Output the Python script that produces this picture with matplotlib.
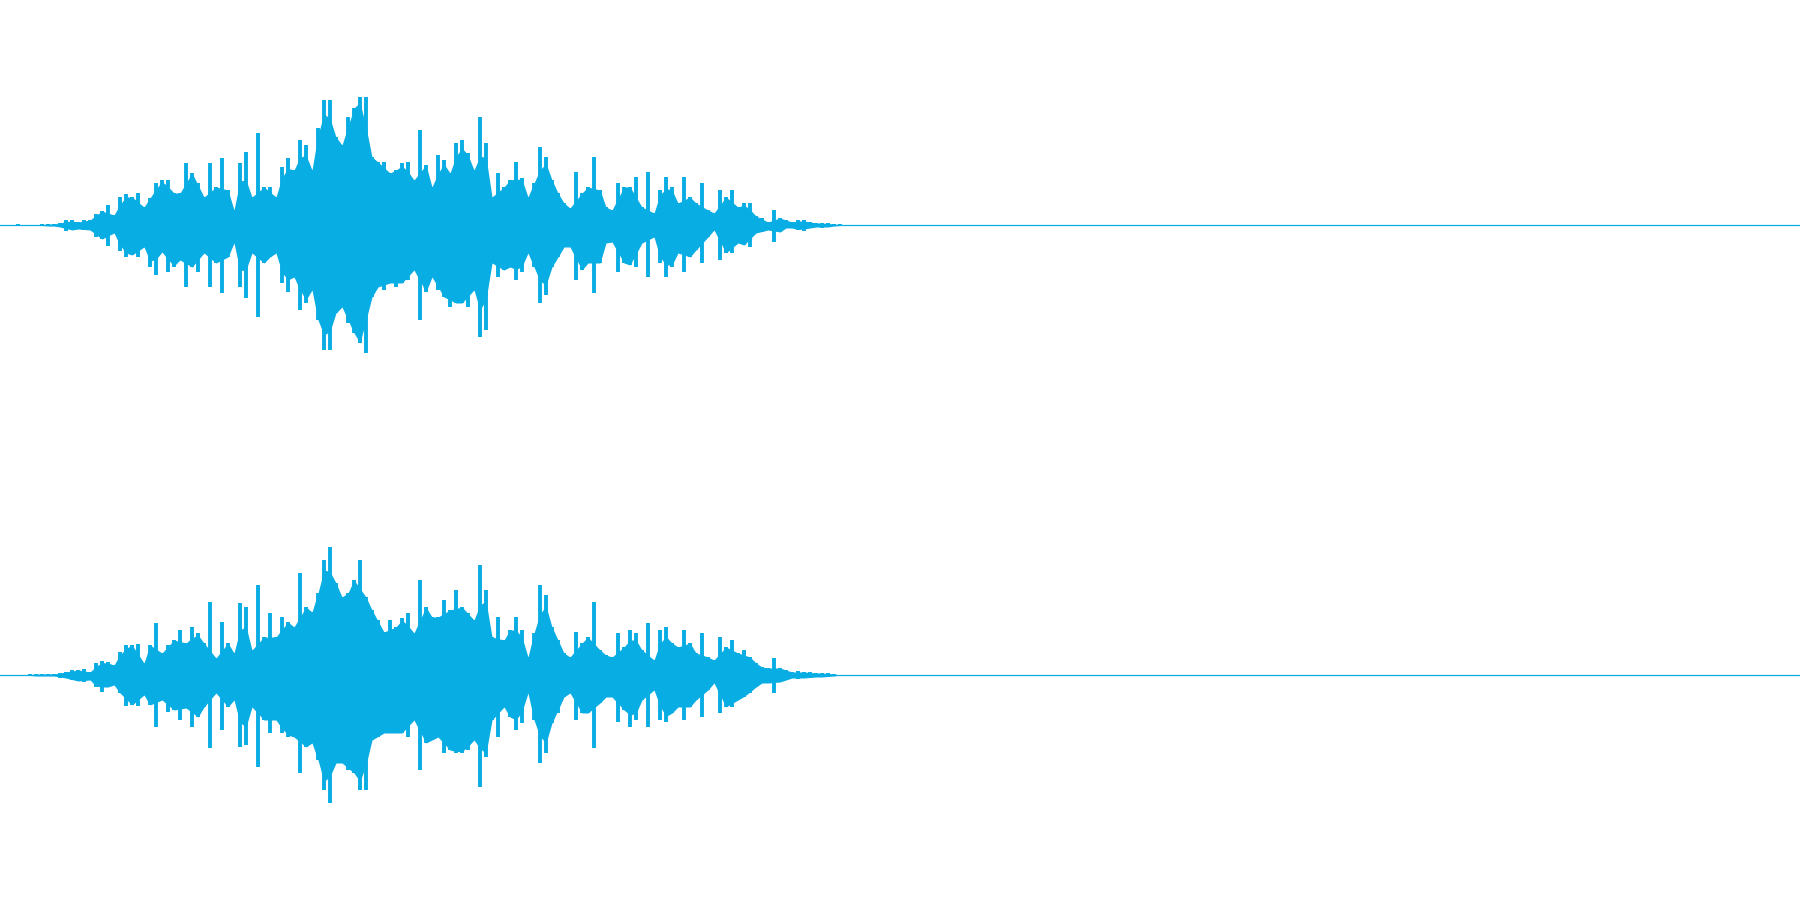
import numpy as np
import matplotlib.pyplot as plt

# peak amplitude every 6 frames, 225 = full scale
step = 6
top_up = [0, 0, 0, 1, 0, 0, 0, 1, 1, 1, 2, 5, 5, 3, 5, 5, 11, 14, 20, 10,
          28, 31, 28, 32, 18, 27, 42, 45, 45, 32, 32, 62, 52, 42,
          28, 62, 38, 67, 35, 15, 62, 73, 28, 92, 38, 38, 28, 58, 67, 55,
          85, 80, 55, 97, 125, 125, 88, 80, 108, 117, 128, 128, 68, 63, 63, 52,
          55, 62, 63, 45, 95, 60, 38, 70, 65, 52, 82, 85, 72, 55, 108, 82,
          28, 52, 38, 45, 63, 47, 28,
          42, 78, 68, 45, 32, 22, 17, 53, 32, 38, 68, 35, 18, 15, 42, 38,
          38, 48, 18, 53, 12, 35, 48, 38, 22, 48, 28, 22, 42, 15, 12, 35,
          28, 35, 18, 22, 22, 9, 7, 3, 15, 7, 5, 3, 5, 5, 3, 2, 2, 2, 1, 1, 0]
top_lo = [0, 0, 0, 1, 0, 0, 0, 1, 1, 1, 2, 6, 5, 4, 5, 5, 12, 14, 21, 8,
          26, 32, 30, 32, 22, 42, 50, 27, 47, 42, 35, 62, 42, 47,
          28, 62, 38, 68, 32, 18, 62, 73, 28, 92, 38, 32, 28, 58, 67, 52,
          85, 78, 65, 95, 125, 125, 88, 82, 98, 108, 118, 128, 72, 62, 65, 58,
          62, 58, 55, 45, 95, 67, 52, 65, 72, 82, 78, 78, 82, 65, 112, 105,
          38, 52, 45, 42, 55, 47, 28,
          42, 78, 70, 42, 32, 22, 22, 55, 45, 38, 68, 38, 18, 17, 47, 38,
          40, 42, 18, 52, 12, 38, 52, 42, 28, 47, 32, 25, 38, 12, 5, 35,
          28, 28, 18, 20, 22, 8, 7, 5, 17, 7, 3, 3, 5, 6, 3, 2, 3, 2, 1, 1, 0]
bot_up = [0, 0, 0, 0, 0, 1, 1, 1, 1, 1, 2, 3, 5, 5, 6, 3, 12, 14, 13, 10,
          23, 30, 30, 31, 12, 30, 52, 22, 30, 35, 45, 32, 48, 42,
          32, 73, 17, 53, 32, 22, 72, 68, 25, 90, 38, 62, 38, 58, 53, 48,
          102, 68, 63, 82, 115, 128, 92, 78, 82, 95, 115, 78, 65, 55, 43, 55,
          48, 57, 62, 42, 95, 68, 58, 58, 75, 65, 85, 68, 62, 55, 110, 85,
          38, 58, 35, 45, 58, 45, 18,
          42, 90, 80, 48, 35, 22, 18, 43, 32, 38, 73, 25, 20, 18, 42, 28,
          45, 42, 25, 52, 15, 45, 48, 32, 28, 45, 32, 22, 42, 18, 15, 38,
          28, 35, 22, 25, 18, 12, 8, 7, 17, 7, 5, 3, 4, 3, 3, 2, 2, 2, 1, 0, 0]
bot_lo = [0, 0, 0, 0, 0, 1, 1, 1, 1, 1, 3, 3, 5, 6, 7, 5, 12, 17, 12, 10,
          18, 31, 30, 31, 20, 30, 52, 25, 37, 35, 45, 33, 52, 42,
          32, 73, 18, 55, 32, 25, 72, 70, 32, 92, 45, 58, 45, 58, 62, 62,
          98, 72, 68, 85, 115, 128, 88, 88, 95, 98, 115, 115, 65, 62, 58, 58,
          58, 58, 62, 45, 95, 68, 65, 62, 78, 75, 78, 78, 75, 65, 112, 82,
          45, 62, 32, 42, 55, 48, 18,
          45, 88, 78, 48, 38, 22, 18, 45, 38, 38, 73, 28, 22, 22, 47, 35,
          52, 45, 25, 52, 15, 45, 47, 38, 32, 45, 32, 25, 42, 15, 8, 38,
          32, 32, 25, 22, 18, 12, 8, 8, 18, 7, 5, 3, 4, 3, 3, 2, 2, 2, 1, 0, 0]

color = "#08ade4"

fig = plt.figure(figsize=(18, 9), dpi=100)
ax1 = fig.add_axes([0, 0.5, 1, 0.5])
ax2 = fig.add_axes([0, 0, 1, 0.5])

for ax, up, lo in [(ax1, top_up, top_lo), (ax2, bot_up, bot_lo)]:
    up = np.array(up, dtype=float)
    lo = np.array(lo, dtype=float)
    t = np.arange(len(up)) * step
    # dense core between the peaks
    cu = np.minimum(up, (np.roll(up, 1) + np.roll(up, -1)) / 2)
    cl = np.minimum(lo, (np.roll(lo, 1) + np.roll(lo, -1)) / 2)
    ax.fill_between(t, -cl, cu, color=color, lw=0)
    ax.vlines(t, -lo, up, color=color, lw=2.8)
    ax.axhline(0, color=color, lw=0.9)
    ax.set_xlim(0, 1800)
    ax.set_ylim(-225, 225)
    ax.axis("off")

plt.savefig("out.png", dpi=100)
